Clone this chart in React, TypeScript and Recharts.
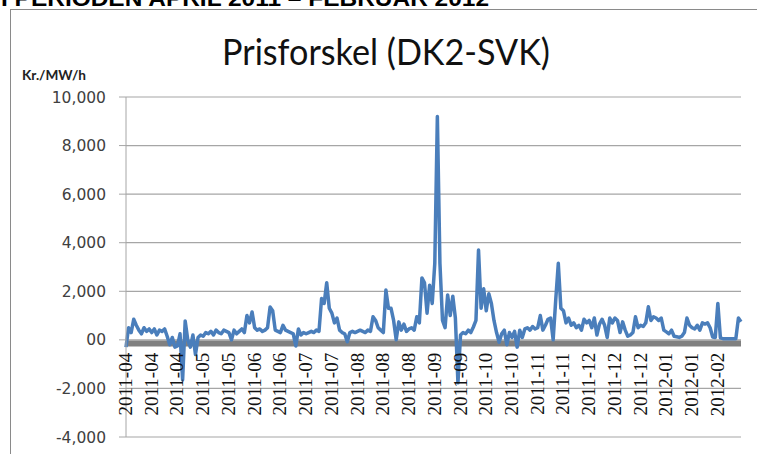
import React from 'react';
import { LineChart, Line, XAxis, YAxis, CartesianGrid, ReferenceLine } from 'recharts';

// Tick labels along the category axis (one every 10 points)
const tickLabels = [
  '2011-04', '2011-04', '2011-04', '2011-05', '2011-05', '2011-06', '2011-06', '2011-07',
  '2011-07', '2011-08', '2011-08', '2011-08', '2011-09', '2011-09', '2011-10', '2011-10',
  '2011-11', '2011-11', '2011-12', '2011-12', '2011-12', '2012-01', '2012-01', '2012-02',
];

// Price difference DK2-SVK (Kr./MWh)
const aprMay = [
  -300, 500, 300, 850, 600, 400, 250, 500, 350, 450,
  300, 450, 200, 400, 350, 450, 150, -200, 100, -300,
  -250, 250, -1650, 780, 0, -300, 200, -600, 100, 200,
  150, 300, 250, 350, 200, 400, 300, 250, 400, 350,
];
const mayJul = [
  300, 0, 400, 250, 350, 450, 300, 1000, 700, 1150,
  500, 400, 450, 350, 400, 500, 1350, 1200, 400, 350,
  300, 600, 400, 350, 300, 250, -250, 450, 200, 300,
  250, 300, 350, 300, 400, 350, 1700, 1500, 2350, 1300,
];
const julSep = [
  1100, 700, 900, 400, 300, 250, -80, 300, 350, 300,
  350, 400, 350, 300, 400, 350, 950, 800, 500, 400,
  300, 2050, 1300, 1300, 800, 0, 740, 400, 650, 350,
  450, 500, 400, 950, 700, 2550, 2350, 1100, 2250, 1500,
];
const sepOct = [
  3150, 9200, 3150, 800, 500, 1850, 1000, 1800, 900, -1770,
  200, 300, 250, 400, 300, 530, 800, 3700, 1300, 2100,
  1200, 1900, 1500, 800, 300, -100, 250, 400, -200, 300,
  100, 350, -300, 400, 100, 450, 500, 400, 550, 450,
];
const novDec = [
  500, 1000, 400, 600, 850, 900, 0, 1650, 3150, 1300,
  1200, 700, 900, 600, 700, 500, 600, 400, 850, 700,
  800, 500, 900, 200, 650, 850, 600, 100, 900, 700,
  900, 800, 300, 740, 400, 150, 200, 300, 950, 500,
];
const decFeb = [
  600, 550, 700, 1360, 800, 950, 900, 800, 900, 400,
  330, 250, 400, 150, 130, 100, 150, 300, 900, 600,
  500, 450, 600, 400, 700, 650, 700, 500, 120, 100,
  1500, 80, 50, 50, 50, 50, 50, 50, 900, 750,
];

const yTicks = [-4000, -2000, 0, 2000, 4000, 6000, 8000, 10000];
const Y_MIN = -4000;
const Y_MAX = 10000;
const baseLevel = -150;

const values = [...aprMay, ...mayJul, ...julSep, ...sepOct, ...novDec, ...decFeb];
const data = values.map((v, i) => ({ i, v }));

const W = 757;
const H = 454;
const TOP = 97;
const BOTTOM_AXIS = 17;
const PLOT_H = H - TOP - BOTTOM_AXIS;
const ZERO_Y = TOP + (PLOT_H * Y_MAX) / (Y_MAX - Y_MIN);

const XTick = (props: any) => {
  const { x, payload } = props;
  const label = tickLabels[Math.round(payload.value / 10)] ?? '';
  return (
    <text
      transform={`translate(${x + 6},${ZERO_Y + 13}) rotate(-90)`}
      textAnchor="end"
      fontFamily="'Liberation Serif', serif"
      fontSize={19}
      fill="#111"
    >
      {label}
    </text>
  );
};

const fmtY = (v: number) => (v === 0 ? '00' : v.toLocaleString('en-US'));

export default function App() {
  return (
    <div style={{ position: 'absolute', left: 0, top: 0, width: W, height: H, overflow: 'hidden', background: '#fff' }}>
      <div
        style={{
          position: 'absolute',
          left: 10,
          top: 9,
          width: W,
          height: H,
          border: '1px solid #8a8a8a',
          boxSizing: 'border-box',
        }}
      />
      <div style={{ position: 'absolute', left: 0, top: 0 }}>
        <LineChart width={W} height={H} data={data} margin={{ top: TOP, right: 16, bottom: 0, left: 0 }}>
          <CartesianGrid vertical={false} stroke="#a6a6a6" strokeWidth={1.2} />
          <XAxis
            type="number"
            dataKey="i"
            domain={[0, values.length - 1]}
            ticks={tickLabels.map((_, k) => k * 10)}
            tick={<XTick />}
            axisLine={false}
            tickLine={false}
            height={BOTTOM_AXIS}
            interval={0}
          />
          <YAxis
            type="number"
            domain={[Y_MIN, Y_MAX]}
            ticks={yTicks}
            tickFormatter={fmtY}
            width={126}
            axisLine={{ stroke: '#a6a6a6' }}
            tickLine={{ stroke: '#a6a6a6' }}
            tickSize={7}
            tickMargin={13}
            tick={{ fontFamily: "'DejaVu Sans', sans-serif", fontSize: 15.5, fill: '#404040' }}
            interval={0}
          />
          <ReferenceLine y={baseLevel} stroke="#808080" strokeWidth={6} />
          <Line
            type="linear"
            dataKey="v"
            stroke="#4a7ebb"
            strokeWidth={3.5}
            strokeLinejoin="round"
            dot={false}
            isAnimationActive={false}
          />
        </LineChart>
      </div>
      <svg width={W} height={H} style={{ position: 'absolute', left: 0, top: 0, pointerEvents: 'none' }}>
        <text x={1} y={6} fontFamily="'Liberation Sans', Arial, sans-serif" fontWeight="bold" fontSize={22} textLength={488} lengthAdjust="spacingAndGlyphs" fill="#000">
          I PERIODEN APRIL 2011 – FEBRUAR 2012
        </text>
        <text x={222} y={65} fontFamily="Lato, 'Open Sans', sans-serif" fontSize={36} textLength={328} lengthAdjust="spacingAndGlyphs" fill="#111">
          Prisforskel (DK2-SVK)
        </text>
        <text x={22} y={80} fontFamily="Lato, 'Open Sans', sans-serif" fontWeight="bold" fontSize={13} textLength={64} lengthAdjust="spacingAndGlyphs" fill="#222">
          Kr./MW/h
        </text>
      </svg>
    </div>
  );
}
